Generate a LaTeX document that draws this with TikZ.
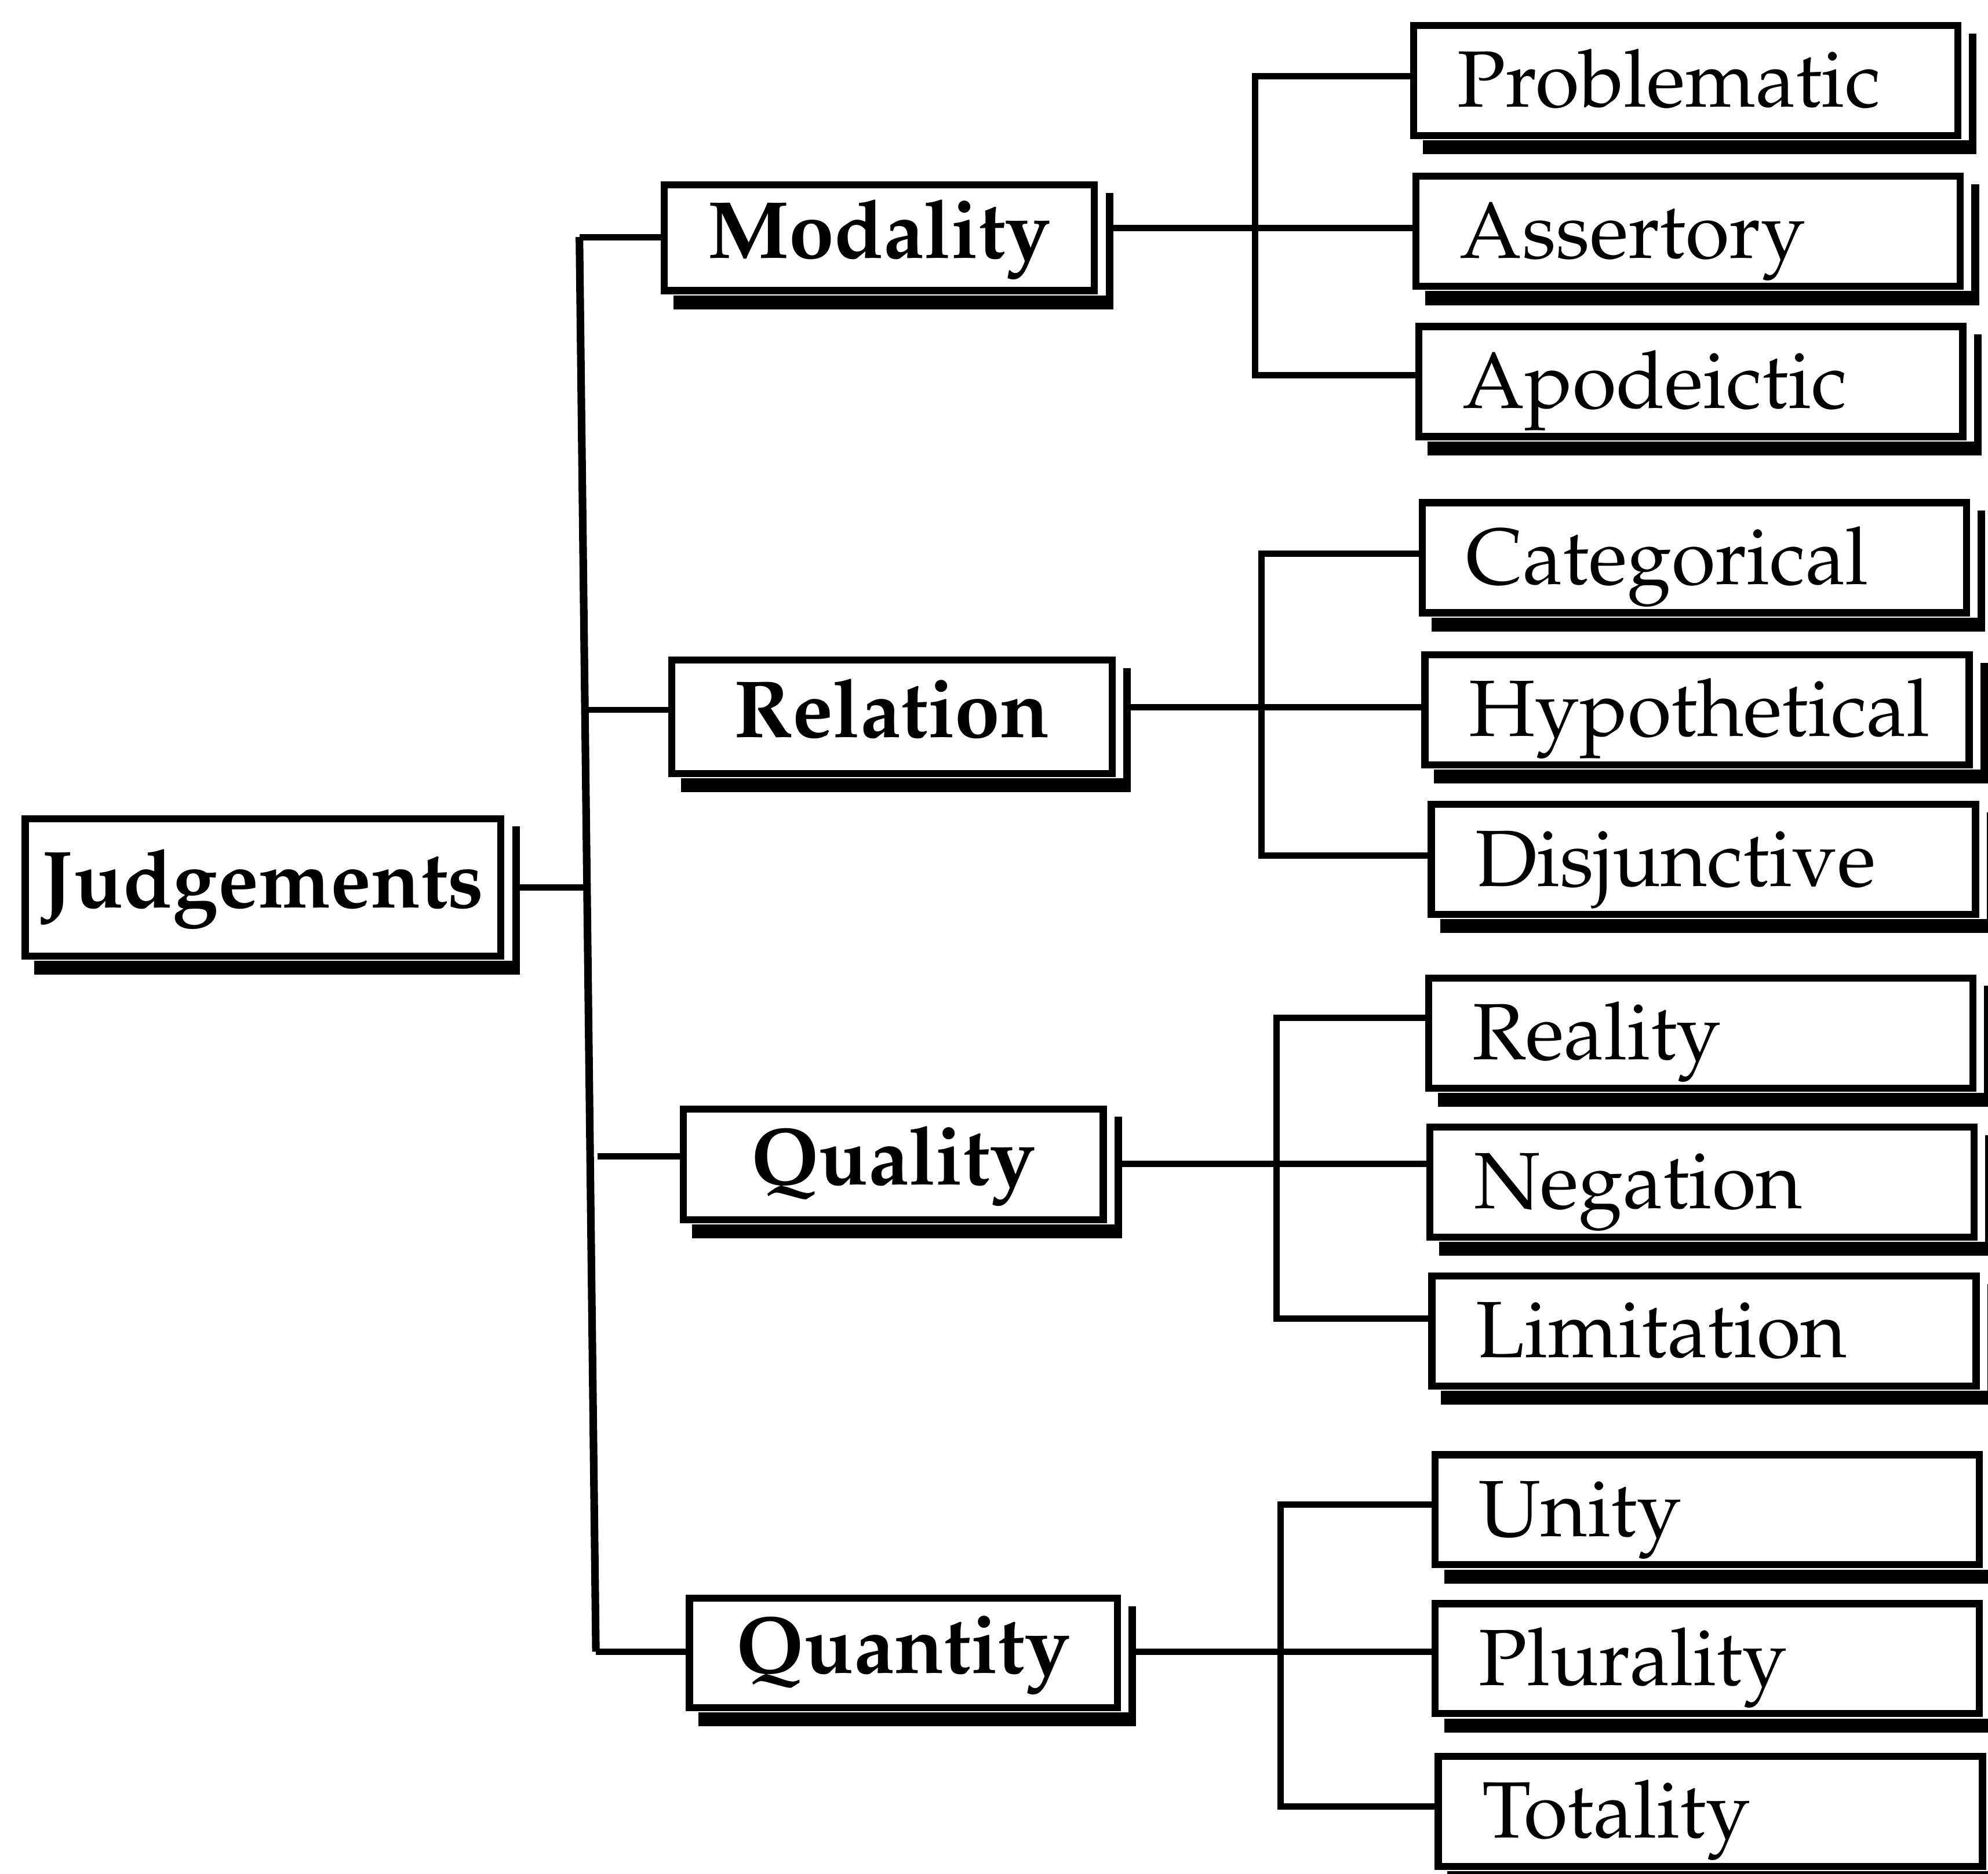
\documentclass[tikz,border=0pt]{standalone}
\usepackage[T1]{fontenc}
\usepackage{mathpazo}
\tikzset{
  box/.style={draw, line width=2.8pt, fill=white, inner sep=0pt, rectangle},
  pbox/.style={box, font=\fontsize{32}{38}\selectfont\bfseries, text height=24pt, text depth=8pt},
  cbox/.style={box, font=\fontsize{31.5}{38}\selectfont, minimum width=214.6pt, minimum height=43.4pt,
               text width=180pt, align=left, text height=27pt, text depth=6pt},
  conn/.style={line width=2.5pt},
  trunk/.style={line width=3pt},
}
\begin{document}
\begin{tikzpicture}[x=0.5pt,y=-0.5pt]
\useasboundingbox (0,0) rectangle (1568,1478);
\fill[white] (0,0) rectangle (1568,1478);
\clip (0,0) rectangle (1568,1478);

% parent nodes
\node[pbox, minimum width=187.6pt, minimum height=54.2pt] (J) at (207.5,700) {Judgements};
\node[pbox, minimum width=169.7pt, minimum height=41.7pt] (Mod) at (693.5,187.5) {Modality};
\node[pbox, minimum width=173.7pt, minimum height=44.7pt] (Rel) at (703.5,565.5) {Relation};
\node[pbox, minimum width=165.7pt, minimum height=43.7pt] (Qual) at (704.5,918.5) {Quality};
\node[pbox, minimum width=168.7pt, minimum height=43.2pt] (Quan) at (712.5,1304) {Quantity};

% child nodes
\node[cbox] (Prob) at (1329.5,63.5) {Problematic};
\node[cbox] (Asse) at (1331.5,182.5) {Assertory};
\node[cbox] (Apod) at (1333.5,301) {Apodeictic};
\node[cbox] (Cat)  at (1336.5,440) {Categorical};
\node[cbox] (Hyp)  at (1338.5,560) {Hypothetical};
\node[cbox] (Dis)  at (1343.5,678) {Disjunctive};
\node[cbox] (Real) at (1341.5,815) {Reality};
\node[cbox] (Neg)  at (1342.5,932.5) {Negation};
\node[cbox] (Lim)  at (1344,1050) {Limitation};
\node[cbox] (Unit) at (1346.5,1191) {Unity};
\node[cbox] (Plur) at (1346.5,1308.5) {Plurality};
\node[cbox] (Tot)  at (1349,1429) {Totality};

% shadows: bottom band and separate right bar
\foreach \n in {J,Mod,Rel,Qual,Quan,Prob,Asse,Apod,Cat,Hyp,Dis,Real,Neg,Lim,Unit,Plur,Tot}{
  \fill ([shift={(10,1)}]\n.south west) rectangle ([shift={(12,12)}]\n.south east);
  \fill ([shift={(6,9)}]\n.north east) rectangle ([shift={(12,1)}]\n.south east);
  \coordinate (\n b) at ([shift={(11,0)}]\n.east);
}

% trunk
\coordinate (t1) at (457,187);
\coordinate (t2) at (461.3,560);
\coordinate (tJ) at (463,700);
\coordinate (t3) at (465.4,912);
\coordinate (t4) at (470,1303);
\draw[trunk] (t1) -- (t4);
\draw[conn] (Jb) -- (tJ);
\draw[conn] (t1) -- (t1 -| Mod.west);
\draw[conn] (t2) -- (t2 -| Rel.west);
\draw[conn] ([shift={(6,0)}]t3) -- (t3 -| Qual.west);
\draw[conn] (t4) -- (t4 -| Quan.west);

% Modality group
\coordinate (m0) at (990,180);
\coordinate (m1) at (990,60);
\coordinate (m2) at (990,296);
\draw[conn] (Modb |- m0) -- (m0 -| Asse.west);
\draw[conn] (m1 -| Prob.west) -- (m1) -- (m2) -- (m2 -| Apod.west);

% Relation group
\coordinate (r0) at (995,558);
\coordinate (r1) at (995,437);
\coordinate (r2) at (995,675);
\draw[conn] (Relb |- r0) -- (r0 -| Hyp.west);
\draw[conn] (r1 -| Cat.west) -- (r1) -- (r2) -- (r2 -| Dis.west);

% Quality group
\coordinate (q0) at (1007,918);
\coordinate (q1) at (1007,803);
\coordinate (q2) at (1007,1040);
\draw[conn] (Qualb |- q0) -- (q0 -| Neg.west);
\draw[conn] (q1 -| Real.west) -- (q1) -- (q2) -- (q2 -| Lim.west);

% Quantity group
\coordinate (u0) at (1010,1303);
\coordinate (u1) at (1010,1187);
\coordinate (u2) at (1010,1425);
\draw[conn] (Quanb |- u0) -- (u0 -| Plur.west);
\draw[conn] (u1 -| Unit.west) -- (u1) -- (u2) -- (u2 -| Tot.west);
\end{tikzpicture}
\end{document}
